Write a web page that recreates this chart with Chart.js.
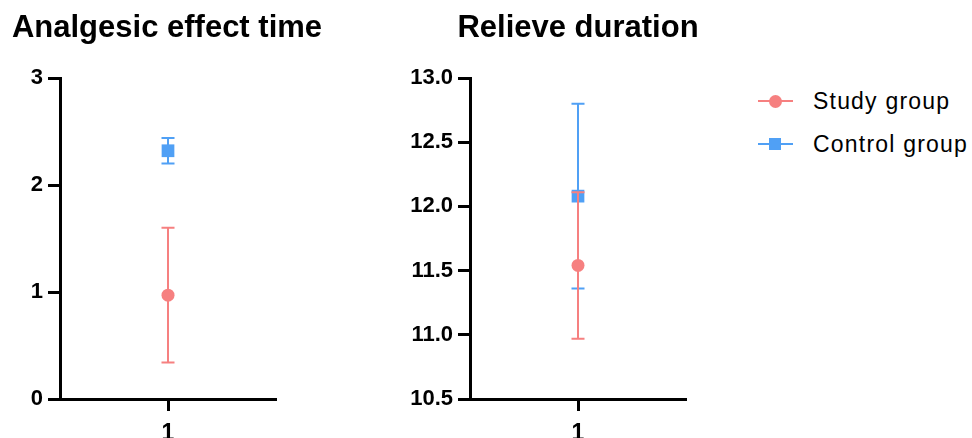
<!DOCTYPE html>
<html lang="en">
<head>
    <meta charset="UTF-8">
    <title>Analgesic effect time / Relieve duration</title>
    <script src="https://cdn.jsdelivr.net/npm/chart.js@4.4.0/dist/chart.umd.min.js"></script>
    <style>
        body {
            margin: 0;
            background: white;
            font-family: "Liberation Sans", Arial, sans-serif;
        }
        .wrap {
            position: relative;
            width: 972px;
            height: 438px;
            overflow: hidden;
        }
        canvas {
            position: absolute;
            top: 0;
        }
        .title {
            position: absolute;
            top: 11px;
            width: 340px;
            text-align: center;
            font-size: 31px;
            line-height: 31px;
            font-weight: bold;
            color: #000;
            white-space: nowrap;
        }
        .legend-item {
            position: absolute;
            left: 758px;
            height: 24px;
        }
        .legend-item .line {
            position: absolute;
            left: 0;
            top: 11px;
            width: 35px;
            height: 2px;
        }
        .legend-item .mark {
            position: absolute;
            left: 11px;
            top: 5.5px;
            width: 13px;
            height: 13px;
        }
        .legend-item .label {
            position: absolute;
            left: 55px;
            top: 0;
            font-size: 23px;
            line-height: 24px;
            letter-spacing: 1.2px;
            color: #000;
            white-space: nowrap;
        }
    </style>
</head>
<body>
<div class="wrap">
    <canvas id="leftChart" width="300" height="438" style="left:0"></canvas>
    <canvas id="rightChart" width="340" height="438" style="left:360px"></canvas>
    <div class="title" style="left:-3px">Analgesic effect time</div>
    <div class="title" style="left:408px">Relieve duration</div>
    <div id="legend"></div>
</div>

<script>
    // data
    const categories = ['1'];
    const seriesNames = ['Study group', 'Control group'];
    const seriesColors = ['#F68080', '#50A0F5'];

    const studyAnalgesic = [0.97];
    const studyAnalgesicSD = [0.63];
    const controlAnalgesic = [2.32];
    const controlAnalgesicSD = [0.12];

    const studyDuration = [11.54];
    const studyDurationSD = [0.57];
    const controlDuration = [12.08];
    const controlDurationSD = [0.72];

    const analgesicTicks = [0, 1, 2, 3];
    const durationTicks = [10.5, 11.0, 11.5, 12.0, 12.5, 13.0];

    Chart.defaults.font.family = '"Liberation Sans", Arial, sans-serif';
    Chart.defaults.color = '#000';

    // error bars drawn right before each dataset, so the draw order follows the datasets
    const errorBars = {
        id: 'errorBars',
        beforeDatasetDraw(chart, args) {
            const ds = chart.data.datasets[args.index];
            const yScale = chart.scales.y;
            const ctx = chart.ctx;
            ctx.save();
            ctx.strokeStyle = ds.borderColor;
            ctx.lineWidth = 2;
            args.meta.data.forEach((pt, i) => {
                const top = yScale.getPixelForValue(ds.data[i] + ds.errors[i]);
                const bot = yScale.getPixelForValue(ds.data[i] - ds.errors[i]);
                ctx.beginPath();
                ctx.moveTo(pt.x, top);
                ctx.lineTo(pt.x, bot);
                ctx.moveTo(pt.x - 6.5, top);
                ctx.lineTo(pt.x + 6.5, top);
                ctx.moveTo(pt.x - 6.5, bot);
                ctx.lineTo(pt.x + 6.5, bot);
                ctx.stroke();
            });
            ctx.restore();
        }
    };

    function makeDatasets(studyVals, studySD, controlVals, controlSD) {
        return [
            {
                label: seriesNames[0],
                data: studyVals,
                errors: studySD,
                borderColor: seriesColors[0],
                backgroundColor: seriesColors[0],
                pointStyle: 'circle',
                pointRadius: 6.5,
                pointBorderWidth: 0,
                showLine: false
            },
            {
                label: seriesNames[1],
                data: controlVals,
                errors: controlSD,
                borderColor: seriesColors[1],
                backgroundColor: seriesColors[1],
                pointStyle: 'rect',
                pointRadius: 9,
                pointBorderWidth: 0,
                showLine: false
            }
        ];
    }

    function makeOptions(tickList, yWidth, padRight, decimals) {
        return {
            responsive: false,
            animation: false,
            events: [],
            clip: false,
            layout: { padding: { top: 78, right: padRight, bottom: 0, left: 0 } },
            plugins: {
                legend: { display: false },
                tooltip: { enabled: false }
            },
            scales: {
                x: {
                    offset: true,
                    afterFit: s => { s.height = 39; },
                    grid: {
                        offset: false,
                        drawOnChartArea: false,
                        tickLength: 12,
                        tickWidth: 3,
                        tickColor: '#000'
                    },
                    border: { color: '#000', width: 3 },
                    ticks: { font: { size: 23, weight: 'bold' }, padding: 9, color: '#000' }
                },
                y: {
                    min: tickList[0],
                    max: tickList[tickList.length - 1],
                    afterFit: s => { s.width = yWidth; },
                    afterBuildTicks: s => { s.ticks = tickList.map(v => ({ value: v })); },
                    grid: {
                        drawOnChartArea: false,
                        tickLength: 12,
                        tickWidth: 3,
                        tickColor: '#000'
                    },
                    border: { color: '#000', width: 3 },
                    ticks: {
                        font: { size: 22, weight: 'bold' },
                        padding: 5,
                        color: '#000',
                        callback: v => Number(v).toFixed(decimals)
                    }
                }
            }
        };
    }

    new Chart(document.getElementById('leftChart'), {
        type: 'line',
        data: {
            labels: categories,
            datasets: makeDatasets(studyAnalgesic, studyAnalgesicSD, controlAnalgesic, controlAnalgesicSD)
        },
        options: makeOptions(analgesicTicks, 60, 24, 0),
        plugins: [errorBars]
    });

    new Chart(document.getElementById('rightChart'), {
        type: 'line',
        data: {
            labels: categories,
            datasets: makeDatasets(studyDuration, studyDurationSD, controlDuration, controlDurationSD)
        },
        options: makeOptions(durationTicks, 110, 14, 1),
        plugins: [errorBars]
    });

    // legend on the right
    const legend = document.getElementById('legend');
    const legendTops = [89, 132];
    seriesNames.forEach((name, i) => {
        const item = document.createElement('div');
        item.className = 'legend-item';
        item.style.top = legendTops[i] + 'px';
        const radius = i === 0 ? '50%' : '0';
        const size = i === 0 ? 13 : 12;
        item.innerHTML =
            '<div class="line" style="background:' + seriesColors[i] + '"></div>' +
            '<div class="mark" style="background:' + seriesColors[i] + ';border-radius:' + radius +
            ';width:' + size + 'px;height:' + size + 'px"></div>' +
            '<div class="label">' + name + '</div>';
        legend.appendChild(item);
    });
</script>
</body>
</html>
